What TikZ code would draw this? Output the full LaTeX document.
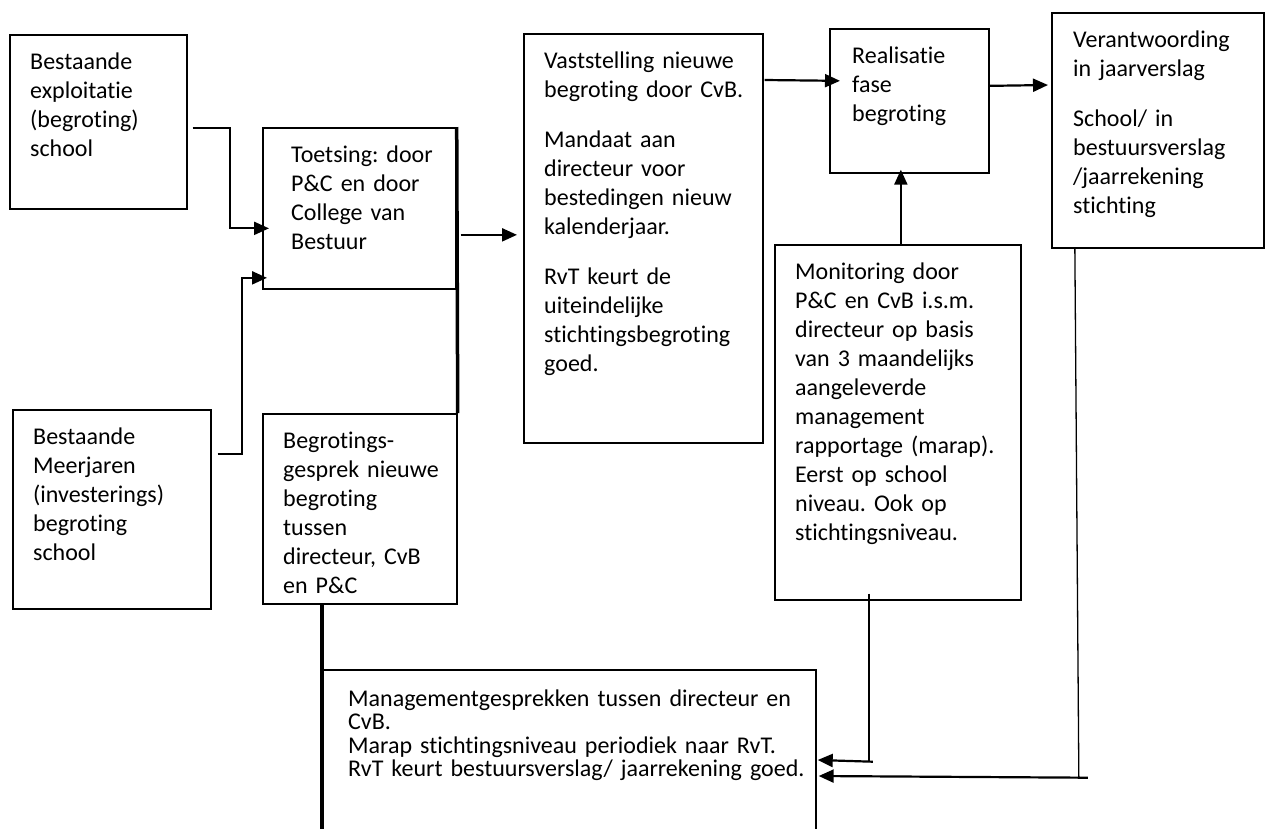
\documentclass[tikz,border=0pt]{standalone}
\usepackage{fontspec}
\setmainfont{Carlito}[Ligatures=NoCommon]
\usetikzlibrary{arrows.meta}
\frenchspacing
\newcommand\krapspatie{\spaceskip=3.6pt plus 1pt\relax}

\begin{document}
\begin{tikzpicture}[x=1pt,y=-1pt]
\tikzstyle{blok}=[draw, line width=1.7pt, anchor=north west, inner sep=0pt]
\tikzstyle{tekst}=
[
	anchor=north west, align=left, inner sep=0pt,
	text width=240pt, text height=18pt,
	font=\fontsize{24}{29}\selectfont\krapspatie
]
\tikzstyle{pijl}=[line width=2.2pt, -{Triangle[length=15pt,width=13pt]}]
\tikzstyle{dik}=[line width=3.5pt]
\tikzstyle{dun}=[line width=1.3pt]

\clip (0,0) rectangle (1269,828);

% blokken
\node[blok, minimum width=177pt, minimum height=174pt] (exploitatie) at (9,34) {};
\node[blok, minimum width=193pt, minimum height=161pt] (toetsing) at (262,127) {};
\node[blok, minimum width=239pt, minimum height=409pt] (vaststelling) at (523,33) {};
\node[blok, minimum width=159pt, minimum height=144pt] (realisatie) at (829,28) {};
\node[blok, minimum width=212pt, minimum height=235pt] (verantwoording) at (1051,12) {};
\node[blok, minimum width=246pt, minimum height=355pt] (monitoring) at (774,244) {};
\node[blok, minimum width=198pt, minimum height=199pt] (meerjaren) at (12,409) {};
\node[blok, minimum width=194pt, minimum height=190pt] (begrotings) at (262,413) {};
\node[blok, minimum width=493pt, minimum height=240pt] (management) at (322,669) {};

% teksten
\node[tekst] (exploitatie-t) at ([shift={(21,17)}]exploitatie.north west)
	{Bestaande\\ exploitatie\\ (begroting)\\ school};
\node[tekst] (toetsing-t) at ([shift={(29,17)}]toetsing.north west)
	{Toetsing: door\\ P\&C en door\\ College van\\ Bestuur};
\node[tekst] (vaststelling-t) at ([shift={(21,17)}]vaststelling.north west)
	{Vaststelling nieuwe\\ begroting door CvB.\\[21pt]
	 Mandaat aan\\ directeur voor\\ bestedingen nieuw\\ kalenderjaar.\\[21pt]
	 RvT keurt de\\ uiteindelijke\\ stichtingsbegroting\\ goed.};
\node[tekst] (realisatie-t) at ([shift={(23,17)}]realisatie.north west)
	{Realisatie\\ fase\\ begroting};
\node[tekst] (verantwoording-t) at ([shift={(22,17)}]verantwoording.north west)
	{Verantwoording\\ in jaarverslag\\[21pt]
	 School/ in\\ bestuursverslag\\ /jaarrekening\\ stichting};
\node[tekst] (monitoring-t) at ([shift={(21,17)}]monitoring.north west)
	{Monitoring door\\ P\&C en CvB i.s.m.\\ directeur op basis\\ van 3 maandelijks\\
	 aangeleverde\\ management\\ rapportage (marap).\\ Eerst op school\\
	 niveau. Ook op\\ stichtingsniveau.};
\node[tekst] (meerjaren-t) at ([shift={(21,17)}]meerjaren.north west)
	{Bestaande\\ Meerjaren\\ (investerings)\\ begroting\\ school};
\node[tekst] (begrotings-t) at ([shift={(21,17)}]begrotings.north west)
	{Begrotings-\\ gesprek nieuwe\\ begroting\\ tussen\\ directeur, CvB\\ en P\&C};
\node[tekst, text width=470pt, font=\fontsize{24}{23.5}\selectfont\krapspatie]
	(management-t) at ([shift={(26,19)}]management.north west)
	{Managementgesprekken tussen directeur en\\ CvB.\\
	 Marap stichtingsniveau periodiek naar RvT.\\
	 RvT keurt bestuursverslag/ jaarrekening goed.};

% pijlen
\draw[pijl] ([shift={(5,6)}]exploitatie.east) -| ([shift={(-32,20)}]toetsing.west)
	-- ([shift={(7,20)}]toetsing.west);
\draw[pijl] ([shift={(6,-55.5)}]meerjaren.east) -| ([shift={(-20,69.5)}]toetsing.west)
	-- ([shift={(5,69.5)}]toetsing.west);
\draw[pijl] ([shift={(4,26.5)}]toetsing.east) -- ([shift={(-6,-3.5)}]vaststelling.west);
\draw[pijl] ([shift={(1,47)}]vaststelling.north east) -- ([shift={(11,-20)}]realisatie.west);
\draw[pijl] ([shift={(0,-15)}]realisatie.east) -- ([shift={(-3,73)}]verantwoording.north west);
\draw[pijl] ([shift={(3,0)}]monitoring.north) -- ([shift={(-8.5,-4)}]realisatie.south);

% terugkoppeling naar managementgesprekken
\draw[dun] ([shift={(-29,-7)}]monitoring.south) -- ([shift={(-29,161)}]monitoring.south);
\draw[pijl] ([shift={(-25,161)}]monitoring.south) -- ([shift={(1,91)}]management.north east);
\draw[dun] ([shift={(-83,0)}]verantwoording.south) -- ([shift={(-79,529)}]verantwoording.south);
\draw[pijl] ([shift={(-70,529)}]verantwoording.south) -- ([shift={(2,107)}]management.north east);

% dikke lijnen
\draw[dik] (toetsing.north east) -- (begrotings.north east);
\draw[dik] (management.north west |- begrotings.south) -- (management.south west);
\end{tikzpicture}
\end{document}
